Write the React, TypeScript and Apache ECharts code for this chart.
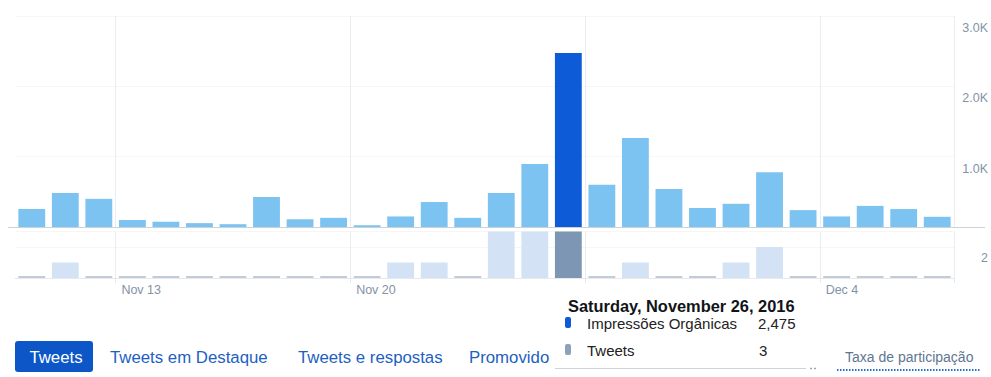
import React, { useEffect, useRef } from "react";
import * as echarts from "echarts";

const dates = [
  "Nov 10", "Nov 11", "Nov 12", "Nov 13", "Nov 14", "Nov 15", "Nov 16",
  "Nov 17", "Nov 18", "Nov 19", "Nov 20", "Nov 21", "Nov 22", "Nov 23",
  "Nov 24", "Nov 25", "Nov 26", "Nov 27", "Nov 28", "Nov 29", "Nov 30",
  "Dec 1", "Dec 2", "Dec 3", "Dec 4", "Dec 5", "Dec 6", "Dec 7",
];
const impressions = [
  255, 485, 400, 100, 75, 55, 40, 425, 110, 130, 25, 150, 355, 130,
  485, 895, 2475, 600, 1265, 540, 270, 330, 780, 240, 150, 300, 255, 145,
];
const tweets = [
  0, 1, 0, 0, 0, 0, 0, 0, 0, 0, 0, 1, 1, 0,
  3, 3, 3, 0, 1, 0, 0, 1, 2, 0, 0, 0, 0, 0,
];
const weekStarts = ["Nov 13", "Nov 20", "Nov 27", "Dec 4"];
const impressionTicks = [0, 1000, 2000, 3000];
const tweetTicks = [0, 2];
const highlightDate = "Nov 26";
const tooltipTitle = "Saturday, November 26, 2016";
const seriesNames = ["Impressões Orgânicas", "Tweets"];
const tabs = ["Tweets", "Tweets em Destaque", "Tweets e respostas", "Promovido"];
const rateLabel = "Taxa de participação";

const FONT = "'Liberation Sans', Arial, Helvetica, sans-serif";

export default function App() {
  const ref = useRef<HTMLDivElement>(null);

  useEffect(() => {
    if (!ref.current) return;
    const chart = echarts.init(ref.current, undefined, { renderer: "svg" });
    const hi = dates.indexOf(highlightDate);
    const isWeekStart = (_i: number, v: string) => weekStarts.indexOf(v) >= 0;

    const topBars = impressions.map((v, i) => ({
      value: v,
      itemStyle: { color: i === hi ? "#0e5bd8" : "#7cc3f1" },
    }));
    const bottomBars = tweets.map((v, i) => ({
      value: v,
      itemStyle: {
        color: i === hi ? "#7d96b3" : v === 0 ? "#c3ccd6" : "#d4e2f6",
      },
    }));

    const axisLabelColor = "#8293a6";

    chart.setOption({
      animation: false,
      textStyle: { fontFamily: FONT },
      grid: [
        { left: 15, right: 35, top: 16, height: 211 },
        { left: 15, right: 35, top: 231.5, height: 46.5 },
      ],
      xAxis: [
        {
          type: "category",
          gridIndex: 0,
          data: dates,
          boundaryGap: true,
          axisLine: { show: false },
          axisTick: { show: false },
          axisLabel: { show: false },
          splitLine: {
            show: true,
            interval: isWeekStart,
            lineStyle: { color: "#e9edf1", width: 1 },
          },
        },
        {
          type: "category",
          gridIndex: 1,
          data: dates,
          boundaryGap: true,
          axisLine: { show: true, lineStyle: { color: "#e6eaee" } },
          axisTick: {
            show: true,
            interval: isWeekStart,
            length: 5,
            lineStyle: { color: "#e6eaee" },
          },
          axisLabel: {
            interval: isWeekStart,
            align: "left",
            padding: [0, 0, 0, -11],
            margin: 5,
            fontSize: 12.5,
            color: axisLabelColor,
            fontFamily: FONT,
          },
          splitLine: {
            show: true,
            interval: isWeekStart,
            lineStyle: { color: "#e9edf1", width: 1 },
          },
        },
      ],
      yAxis: [
        {
          type: "value",
          gridIndex: 0,
          min: impressionTicks[0],
          max: impressionTicks[impressionTicks.length - 1],
          interval: impressionTicks[1] - impressionTicks[0],
          position: "right",
          offset: 35,
          axisLine: { show: false },
          axisTick: { show: false },
          splitLine: { lineStyle: { color: "#f5f6f8" } },
          axisLabel: {
            inside: true,
            margin: 1,
            verticalAlign: "top",
            lineHeight: 24,
            fontSize: 12.5,
            color: axisLabelColor,
            fontFamily: FONT,
            formatter: (v: number) =>
              v === 0 ? "" : (v / 1000).toFixed(1) + "K",
          },
        },
        {
          type: "value",
          gridIndex: 1,
          min: 0,
          max: 3,
          interval: tweetTicks[1] - tweetTicks[0],
          position: "right",
          offset: 35,
          axisLine: { show: false },
          axisTick: { show: false },
          splitLine: { lineStyle: { color: "#f5f6f8" } },
          axisLabel: {
            inside: true,
            margin: 1,
            verticalAlign: "top",
            lineHeight: 22,
            fontSize: 12.5,
            color: axisLabelColor,
            fontFamily: FONT,
            formatter: (v: number) =>
              tweetTicks.indexOf(v) > 0 ? String(v) : "",
          },
        },
      ],
      series: [
        {
          name: seriesNames[0],
          type: "bar",
          xAxisIndex: 0,
          yAxisIndex: 0,
          barWidth: "80%",
          data: topBars,
          z: 3,
        },
        {
          name: seriesNames[1],
          type: "bar",
          xAxisIndex: 1,
          yAxisIndex: 1,
          barWidth: "80%",
          barMinHeight: 2,
          data: bottomBars,
          z: 3,
        },
      ],
      graphic: [
        {
          type: "line",
          z: 1,
          shape: { x1: 8, y1: 227.5, x2: 985, y2: 227.5 },
          style: { stroke: "#cbd3da", lineWidth: 1 },
        },
        // tabs
        {
          type: "rect",
          z: 10,
          shape: { x: 15, y: 341, width: 78, height: 31, r: 3 },
          style: { fill: "#0c56c8" },
        },
        {
          type: "text",
          z: 11,
          x: 56,
          y: 357,
          style: {
            text: tabs[0],
            fill: "#ffffff",
            font: `16.8px ${FONT}`,
            textAlign: "center",
            textVerticalAlign: "middle",
          },
        },
        {
          type: "text",
          z: 11,
          x: 110,
          y: 357,
          style: {
            text: tabs[1],
            fill: "#1d5fc2",
            font: `16.8px ${FONT}`,
            textAlign: "left",
            textVerticalAlign: "middle",
          },
        },
        {
          type: "text",
          z: 11,
          x: 298,
          y: 357,
          style: {
            text: tabs[2],
            fill: "#1d5fc2",
            font: `16.8px ${FONT}`,
            textAlign: "left",
            textVerticalAlign: "middle",
          },
        },
        {
          type: "text",
          z: 11,
          x: 469,
          y: 357,
          style: {
            text: tabs[3],
            fill: "#1d5fc2",
            font: `16.8px ${FONT}`,
            textAlign: "left",
            textVerticalAlign: "middle",
          },
        },
        {
          type: "text",
          z: 11,
          x: 845,
          y: 357,
          style: {
            text: rateLabel,
            fill: "#5f7693",
            font: `14px ${FONT}`,
            textAlign: "left",
            textVerticalAlign: "middle",
          },
        },
        {
          type: "line",
          z: 11,
          shape: { x1: 837, y1: 370, x2: 980, y2: 370 },
          style: { stroke: "#2a6fd0", lineWidth: 2, lineDash: [1.5, 1.5] },
        },
        // tooltip
        {
          type: "rect",
          z: 50,
          shape: { x: 555, y: 283, width: 262, height: 85 },
          style: { fill: "#ffffff" },
        },
        {
          type: "line",
          z: 51,
          shape: { x1: 555, y1: 368.5, x2: 806, y2: 368.5 },
          style: { stroke: "#cdd3d9", lineWidth: 1 },
        },
        {
          type: "line",
          z: 51,
          shape: { x1: 810, y1: 368.5, x2: 818, y2: 368.5 },
          style: { stroke: "#9aa8b6", lineWidth: 1.5, lineDash: [2, 2] },
        },
        {
          type: "text",
          z: 52,
          x: 568,
          y: 306,
          style: {
            text: tooltipTitle,
            fill: "#111418",
            font: `bold 16.4px ${FONT}`,
            textAlign: "left",
            textVerticalAlign: "middle",
          },
        },
        {
          type: "rect",
          z: 52,
          shape: { x: 565, y: 317, width: 6, height: 11, r: 2 },
          style: { fill: "#0e5bd8" },
        },
        {
          type: "text",
          z: 52,
          x: 587,
          y: 323,
          style: {
            text: seriesNames[0],
            fill: "#222222",
            font: `15px ${FONT}`,
            textAlign: "left",
            textVerticalAlign: "middle",
          },
        },
        {
          type: "text",
          z: 52,
          x: 758,
          y: 323,
          style: {
            text: impressions[hi].toLocaleString("en-US"),
            fill: "#222222",
            font: `15px ${FONT}`,
            textAlign: "left",
            textVerticalAlign: "middle",
          },
        },
        {
          type: "rect",
          z: 52,
          shape: { x: 565, y: 344, width: 6, height: 11, r: 2 },
          style: { fill: "#8ea1b8" },
        },
        {
          type: "text",
          z: 52,
          x: 587,
          y: 350,
          style: {
            text: seriesNames[1],
            fill: "#222222",
            font: `15px ${FONT}`,
            textAlign: "left",
            textVerticalAlign: "middle",
          },
        },
        {
          type: "text",
          z: 52,
          x: 759,
          y: 350,
          style: {
            text: String(tweets[hi]),
            fill: "#222222",
            font: `15px ${FONT}`,
            textAlign: "left",
            textVerticalAlign: "middle",
          },
        },
      ],
    });

    return () => chart.dispose();
  }, []);

  return (
    <div
      ref={ref}
      style={{
        position: "fixed",
        left: 0,
        top: 0,
        width: 991,
        height: 377,
        background: "#ffffff",
      }}
    />
  );
}
